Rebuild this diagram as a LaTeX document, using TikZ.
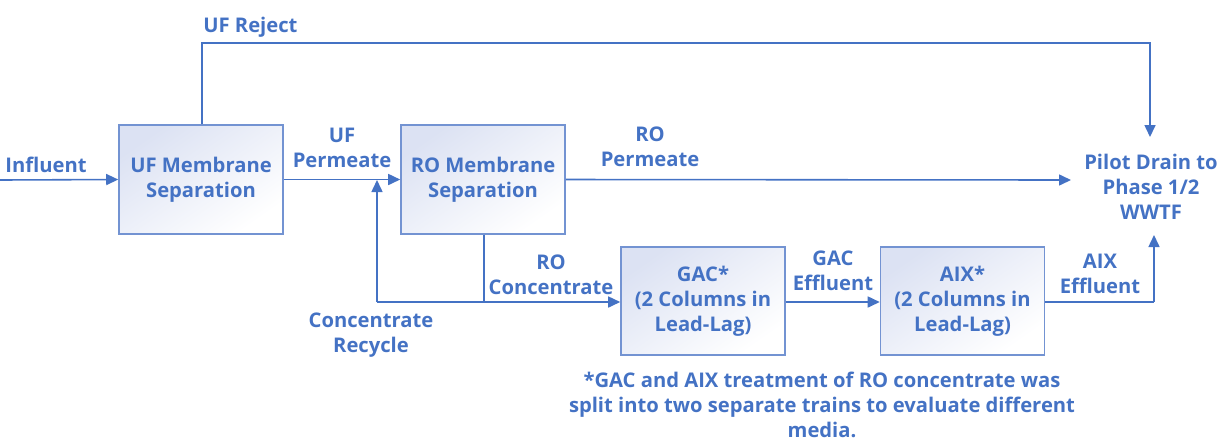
\documentclass[tikz,border=0pt]{standalone}
\usepackage{fontspec}
\setmainfont{Open Sans}
\usetikzlibrary{arrows.meta}
\definecolor{flow}{HTML}{4472C4}
\definecolor{frame}{HTML}{7393D2}
\definecolor{tint}{HTML}{DCE2F3}
\tikzset{
  x=0.02cm, y=-0.02cm,
  unit/.style={draw=frame, line width=0.9pt, top color=tint, bottom color=white,
    shading angle=35, minimum width=3.28cm, minimum height=2.17cm,
    align=center, text=flow, font=\bfseries\fontsize{11.5pt}{14.2pt}\selectfont},
  lbl/.style={text=flow, align=center, inner sep=0pt,
    font=\bfseries\fontsize{11.5pt}{14.2pt}\selectfont},
  pipe/.style={draw=flow, line width=0.9pt},
  feed/.style={pipe, -{Triangle[length=2.4mm,width=2.2mm]}},
}
\begin{document}
\begin{tikzpicture}
\useasboundingbox (0,0) rectangle (1220,441);

% process units
\node[unit] (uf)  at (201,179.5) {UF Membrane\\Separation};
\node[unit] (ro)  at (483,179.5) {RO Membrane\\Separation};
\node[unit] (gac) at (703,301)   {GAC*\\(2 Columns in\\Lead-Lag)};
\node[unit] (aix) at (962.5,301) {AIX*\\(2 Columns in\\Lead-Lag)};

% destination
\node[lbl] (drain) at (1151,187) {Pilot Drain to\\Phase 1/2\\WWTF};
\coordinate (drainTop)  at (1150,137);
\coordinate (drainLeft) at (1071,180);
\coordinate (drainBot)  at (1154,235);

% pipe junctions and corners
\coordinate (inlet)    at (0,180);
\coordinate (rejA)     at (202,43);
\coordinate (rejB)     at (1150,43);
\coordinate (concJ)    at (484,302);
\coordinate (recycleC) at (377,302);
\coordinate (recycleT) at (377,180);
\coordinate (aixC)     at (1154,302);

% flow lines
\draw[feed] (inlet) -- (uf.west);
\draw[feed] (uf.east) -- (ro.west);
\draw[feed] (uf.north -| rejA) -- (rejA) -- (rejB) -- (drainTop);
\draw[feed] (ro.east) -- (drainLeft);
\draw[pipe] (ro.south -| concJ) -- (concJ);
\draw[feed] (recycleC) -- (gac.west |- recycleC);
\draw[feed] (recycleC) -- (recycleT);
\draw[feed] (gac.east |- concJ) -- (aix.west |- concJ);
\draw[pipe] (aix.east |- aixC) -- (aixC);
\draw[feed] (aixC) -- (drainBot);

% stream labels
\node[lbl, anchor=west] (tInf) at (5,165) {Influent};
\node[lbl, anchor=west] (tRej) at (203,27) {UF Reject};
\node[lbl] (tUfp) at (342,147.5) {UF\\Permeate};
\node[lbl] (tRop) at (650,147) {RO\\Permeate};
\node[lbl] (tRoc) at (551,274.5) {RO\\Concentrate};
\node[lbl] (tRec) at (371,335.5) {Concentrate\\Recycle};
\node[lbl] (tGac) at (833,271) {GAC\\Effluent};
\node[lbl] (tAix) at (1100,274) {AIX\\Effluent};

% footnote
\node[lbl] (note) at (822,405) {*GAC and AIX treatment of RO concentrate was\\split into two separate trains to evaluate different\\media.};
\end{tikzpicture}
\end{document}
